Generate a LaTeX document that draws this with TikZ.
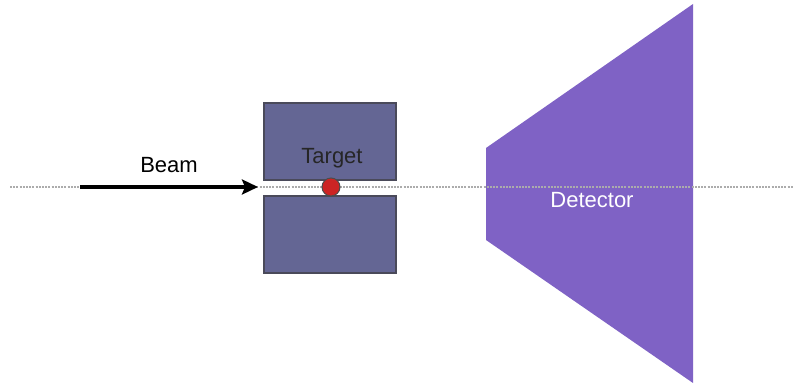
\documentclass[tikz,border=0pt]{standalone}
\usepackage{fontspec}
\setmainfont{Liberation Sans}
\usetikzlibrary{arrows.meta,shapes.geometric}
\definecolor{tgtfill}{HTML}{646694}
\definecolor{tgtdraw}{HTML}{4A4A5A}
\definecolor{detfill}{HTML}{7F62C5}
\definecolor{dotred}{HTML}{CC2424}
\begin{document}
\begin{tikzpicture}[x=1pt,y=-1pt,
  tgtbox/.style={draw=tgtdraw,line width=1.2pt,fill=tgtfill,minimum width=132pt,minimum height=77pt,inner sep=0pt},
  lbl/.style={font=\fontsize{22}{26}\selectfont},
  axisline/.style={draw=gray!65,line width=2.6pt,dash pattern=on 2pt off 1.2pt},
  beamarrow/.style={draw=black,line width=3.6pt,-{Stealth[length=16pt,width=15pt,inset=3pt]}}]
\useasboundingbox (0,0) rectangle (794,387);
\node[tgtbox] (ttop) at (330,141.5) {};
\node[tgtbox] (tbot) at (330,234.5) {};
\node[lbl,text=black!85] (tlabel) at (332,158) {Target};
\fill[detfill] (486,148) coordinate (d1) -- (693,4) coordinate (d2) -- (693,383) coordinate (d3) -- (486,240) coordinate (d4) -- cycle;
\node[lbl,text=white] (dlabel) at (592,200) {Detector};
\coordinate (a0) at (10,187);
\coordinate (a1) at (794,187);
\draw[axisline] (a0) -- (a1);
\coordinate (b0) at (80,187);
\coordinate (b1) at (258,187);
\draw[beamarrow] (b0) -- (b1);
\node[lbl] (blabel) at (169,165) {Beam};
\node[draw=black!70,line width=1pt,fill=dotred,circle,minimum size=18pt,inner sep=0pt] (dot) at (331,187) {};
\end{tikzpicture}
\end{document}
